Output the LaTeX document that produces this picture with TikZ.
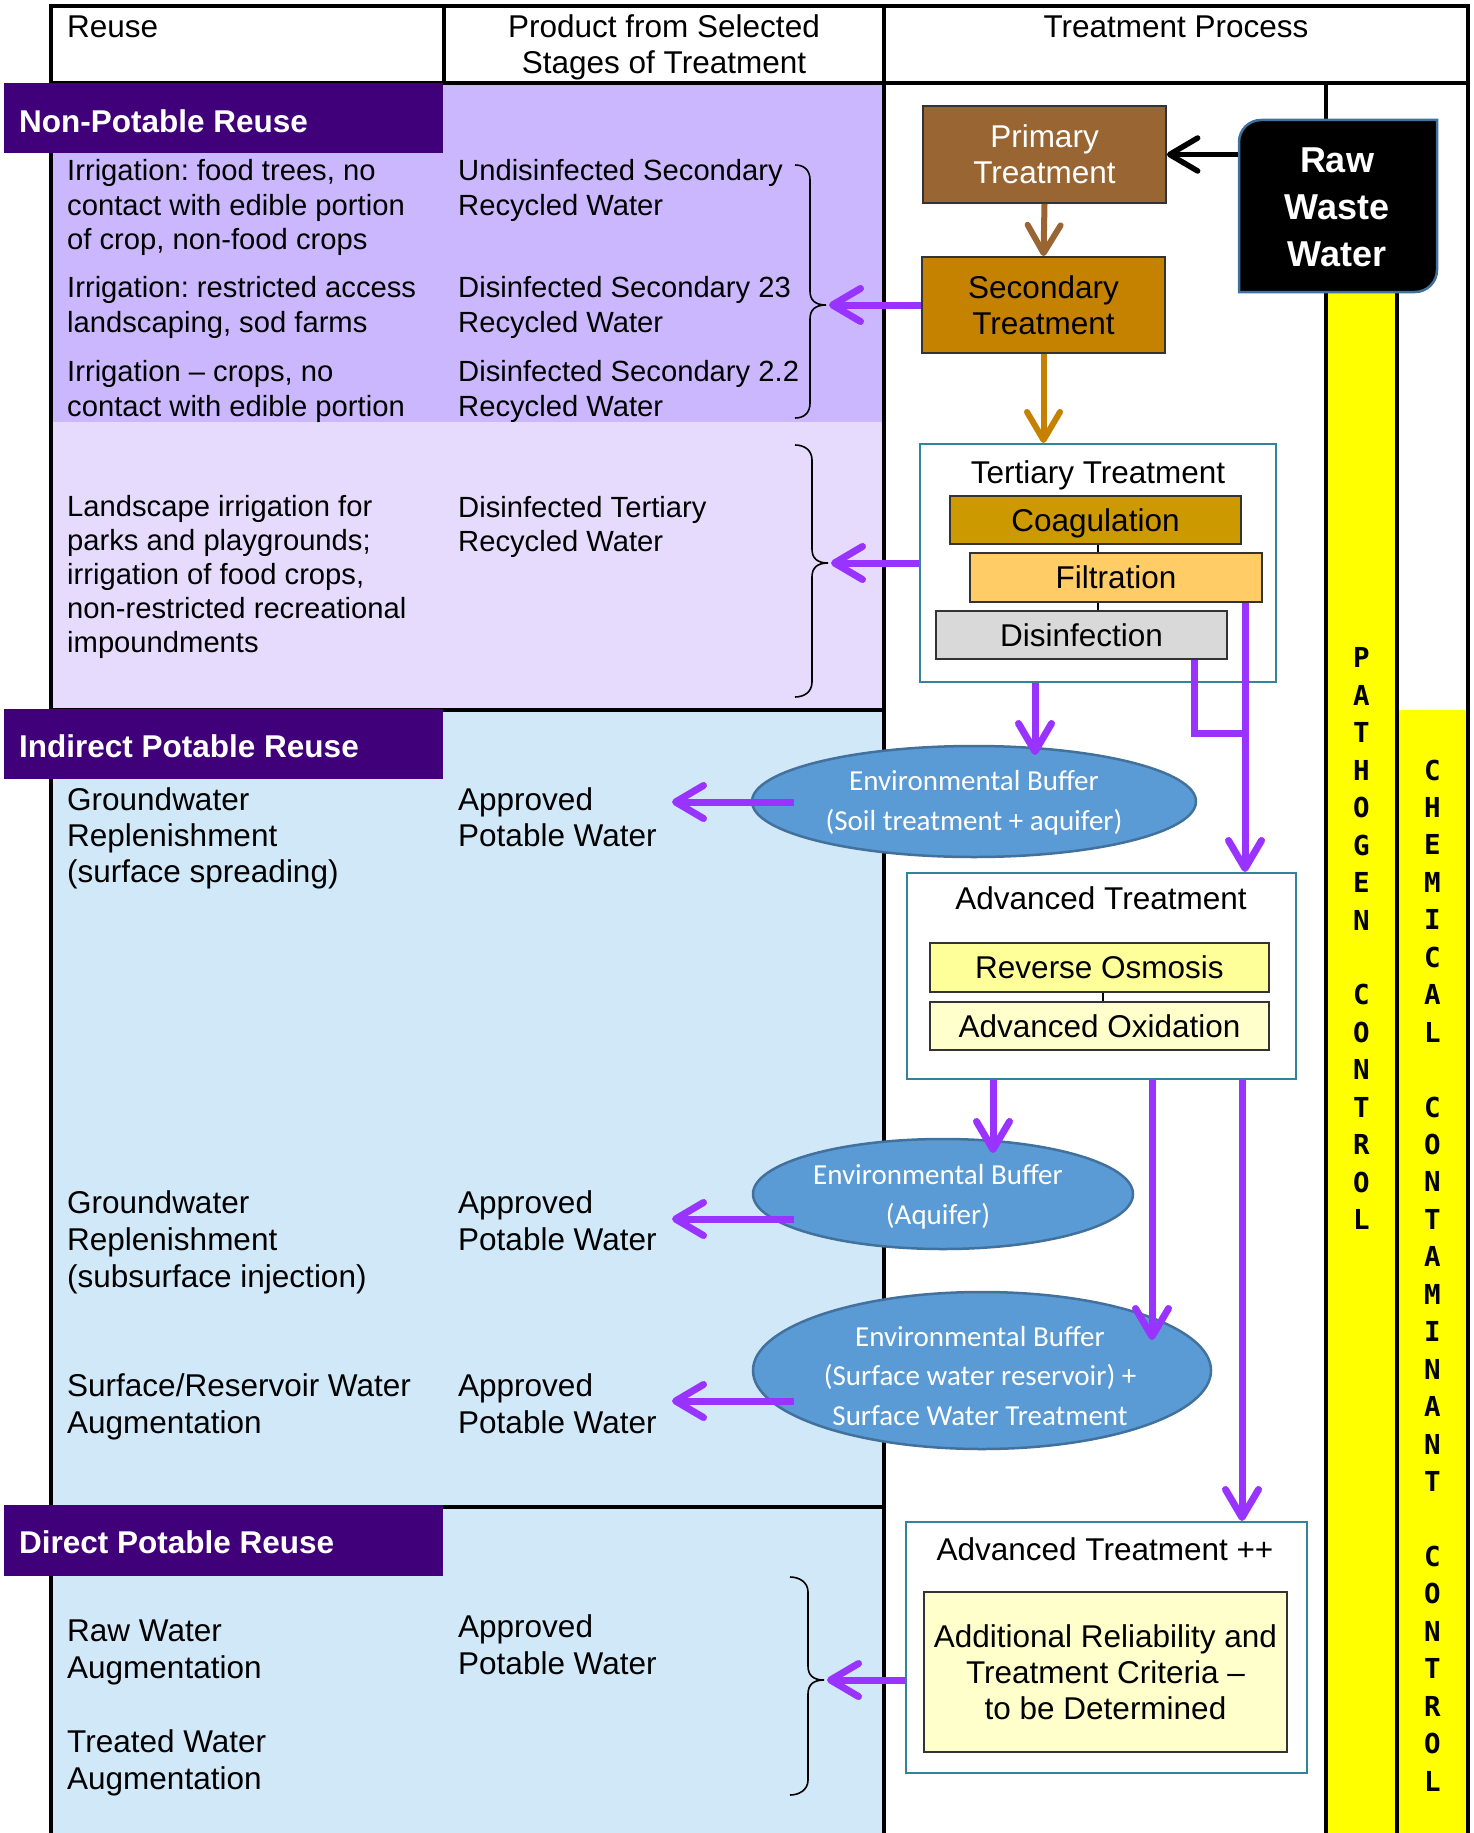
\documentclass[tikz,border=0pt]{standalone}
\usepackage{fontspec}
\setmainfont{Liberation Sans}
\newfontfamily\calib{Carlito}
\newfontfamily\monob{DejaVu Sans Mono}
\usetikzlibrary{arrows.meta,shapes.geometric,calc}
\frenchspacing
\definecolor{banner}{HTML}{40007A}
\definecolor{npurple}{HTML}{CBB7FE}
\definecolor{lav}{HTML}{E6DBFD}
\definecolor{lblue}{HTML}{D1E8F8}
\definecolor{vio}{HTML}{9933FF}
\definecolor{brownbox}{HTML}{996633}
\definecolor{secbox}{HTML}{C48200}
\definecolor{coagc}{HTML}{CC9900}
\definecolor{filtc}{HTML}{FFCC66}
\definecolor{disfc}{HTML}{D9D9D9}
\definecolor{roc}{HTML}{FFFF99}
\definecolor{aoc}{HTML}{FFFFCC}
\definecolor{boxteal}{HTML}{31849B}
\definecolor{buff}{HTML}{5B9BD5}
\definecolor{buffb}{HTML}{41719C}
\definecolor{yel}{HTML}{FFFF00}
\newcommand\mybrace[6]{%
  \draw[brace] (#1,#4) .. controls ({#1+9},#4) and (#2,{#4+5}) .. (#2,{#4+15})
    -- (#2,{#5-14}) .. controls (#2,{#5-5}) and ({#2+5},#5) .. (#3,#5)
    .. controls ({#2+5},#5) and (#2,{#5+5}) .. (#2,{#5+14})
    -- (#2,{#6-15}) .. controls (#2,{#6-5}) and ({#1+9},#6) .. (#1,#6);}
\begin{document}
\begin{tikzpicture}[x=1pt,y=-1pt,
  tline/.style={line width=4.5pt},
  bantext/.style={font=\bfseries\fontsize{31.5}{36}\selectfont, text=white, anchor=west, inner sep=0},
  np/.style={font=\fontsize{29.2}{34.5}\selectfont, anchor=north west, align=left, inner sep=0},
  pt/.style={font=\fontsize{31.5}{37}\selectfont, anchor=north west, align=left, inner sep=0},
  hd/.style={font=\fontsize{31.5}{36}\selectfont, anchor=north, align=center, inner sep=0},
  stage/.style={draw=black!80, line width=1.8pt, inner sep=0, align=center, font=\fontsize{31.5}{36}\selectfont},
  one/.style={text height=22.6pt, text depth=0pt},
  group/.style={draw=boxteal, line width=2pt, fill=white, inner sep=0},
  title/.style={font=\fontsize{31.5}{36}\selectfont, inner sep=0, anchor=base},
  buffer/.style={ellipse, draw=buffb, line width=2.5pt, fill=buff, inner sep=0},
  buftext/.style={font=\calib\fontsize{29}{39.5}\selectfont, text=white, align=center, inner sep=0},
  arr/.style={-{Straight Barb[length=28pt,width=33pt,round]}},
  parr/.style={draw=vio, line width=7pt, arr},
  pline/.style={draw=vio, line width=7pt},
  brace/.style={draw=black, line width=1.6pt},
  link/.style={draw=black, line width=1.6pt},
  vert/.style={font=\monob\bfseries\fontsize{27.5}{37.45}\selectfont, align=center, anchor=north, inner sep=0},
]
\useasboundingbox (0,0) rectangle (1474,1833);
\fill[white] (0,0) rectangle (1474,1833);
% backgrounds
\fill[npurple] (51,83) rectangle (884,422);
\fill[lav] (51,422) rectangle (884,710);
\fill[lblue] (51,710) rectangle (884,1833);
\fill[yel] (1326,250) rectangle (1397,1833);
\fill[yel] (1397,710) rectangle (1468,1833);
% table lines
\draw[tline, line cap=rect] (51,6) -- (1468,6);
\draw[tline] (51,83) -- (1468,83);
\draw[tline, line cap=rect] (51,6) -- (51,1833);
\draw[tline] (444,6) -- (444,83);
\draw[tline] (884,6) -- (884,1833);
\draw[tline, line cap=rect] (1468,6) -- (1468,1833);
\draw[tline] (1326,83) -- (1326,1833);
\draw[tline] (1397,250) -- (1397,1833);
\draw[tline] (51,710) -- (884,710);
\draw[tline] (51,1507) -- (884,1507);
% header
\node[hd, anchor=north west, align=left] (h1) at (67,12) {\strut Reuse};
\node[hd] (h2) at (664,12) {\strut Product from Selected\\Stages of Treatment};
\node[hd] (h3) at (1176,12) {\strut Treatment Process};
% banners
\fill[banner] (4,83) rectangle (443,153);
\fill[banner] (4,709) rectangle (443,779);
\fill[banner] (4,1505) rectangle (443,1576);
\node[bantext] (b1) at (19,121) {Non-Potable Reuse};
\node[bantext] (b2) at (19,746) {Indirect Potable Reuse};
\node[bantext] (b3) at (19,1542) {Direct Potable Reuse};
% non-potable texts
\node[np] (r1) at (67,156.5) {\strut Irrigation: food trees, no\\contact with edible portion\\of crop, non-food crops};
\node[np] (r2) at (67,273.5) {\strut Irrigation: restricted access\\landscaping, sod farms};
\node[np] (r3) at (67,357.5) {\strut Irrigation – crops, no\\contact with edible portion};
\node[np] (p1) at (458,156.5) {\strut Undisinfected Secondary\\Recycled Water};
\node[np] (p2) at (458,273.5) {\strut Disinfected Secondary 23\\Recycled Water};
\node[np] (p3) at (458,357.5) {\strut Disinfected Secondary 2.2\\Recycled Water};
\node[np, font=\fontsize{29.2}{33.8}\selectfont] (r4) at (67,493) {\strut Landscape irrigation for\\parks and playgrounds;\\irrigation of food crops,\\non-restricted recreational\\impoundments};
\node[np] (p4) at (458,493) {\strut Disinfected Tertiary\\Recycled Water};
% indirect texts
\node[pt, font=\fontsize{31.5}{36}\selectfont] (r5) at (67,785) {\strut Groundwater\\Replenishment\\(surface spreading)};
\node[pt, font=\fontsize{31.5}{36}\selectfont] (p5) at (458,785) {\strut Approved\\Potable Water};
\node[pt] (r6) at (67,1187.5) {\strut Groundwater\\Replenishment\\(subsurface injection)};
\node[pt] (p6) at (458,1187.5) {\strut Approved\\Potable Water};
\node[pt] (r7) at (67,1370.5) {\strut Surface/Reservoir Water\\Augmentation};
\node[pt] (p7) at (458,1370.5) {\strut Approved\\Potable Water};
% direct texts
\node[pt] (r8) at (67,1615.5) {\strut Raw Water\\Augmentation};
\node[pt] (p8) at (458,1611.5) {\strut Approved\\Potable Water};
\node[pt] (r9) at (67,1726.5) {\strut Treated Water\\Augmentation};
% braces
\mybrace{795}{810}{826}{165}{305}{418}
\mybrace{795}{812}{828}{445}{563}{697}
\mybrace{790}{808}{824}{1577}{1680}{1795}
\coordinate (bt1) at (829,305);
\coordinate (bt2) at (831,563);
\coordinate (bt3) at (827,1680);
% vertical labels
\node[vert] (pc) at (1361.5,641.5) {\strut P\\A\\T\\H\\O\\G\\E\\N\\\mbox{}\\C\\O\\N\\T\\R\\O\\L};
\node[vert] (cc) at (1432.5,753.6) {\strut C\\H\\E\\M\\I\\C\\A\\L\\\mbox{}\\C\\O\\N\\T\\A\\M\\I\\N\\A\\N\\T\\\mbox{}\\C\\O\\N\\T\\R\\O\\L};
% raw waste water
\draw[draw=buffb, line width=2.5pt, fill=black] (1239,292) -- (1239,142) .. controls (1239,129.9) and (1248.9,120) .. (1261,120) -- (1437,120) -- (1437,270) .. controls (1437,282.1) and (1427.1,292) .. (1415,292) -- cycle;
\node[font=\bfseries\fontsize{36}{47}\selectfont, text=white, align=center, minimum width=198, minimum height=172, inner sep=0] (raw) at (1337,207) {Raw\\Waste\\Water};
% primary / secondary
\node[stage, fill=brownbox, text=white, minimum width=243, minimum height=97] (prim) at (1044.5,154.5) {Primary\\Treatment};
\node[stage, fill=secbox, minimum width=243, minimum height=96] (sec) at (1043.5,305) {Secondary\\Treatment};
% tertiary
\node[group, minimum width=356, minimum height=238] (tert) at (1098,563) {};
\node[title] (tertt) at (1098,483) {Tertiary Treatment};
\node[stage, one, fill=coagc, minimum width=291, minimum height=48] (coag) at (1095.5,520) {Coagulation};
\node[stage, one, fill=filtc, minimum width=292, minimum height=49] (filt) at (1116,577.5) {Filtration};
\node[stage, one, fill=disfc, minimum width=291, minimum height=48] (disf) at (1081.5,635) {Disinfection};
\coordinate (cx) at (1098,0);
\draw[link] (coag.south -| cx) -- (filt.north -| cx);
\draw[link] (filt.south -| cx) -- (disf.north -| cx);
% advanced
\node[group, minimum width=389, minimum height=206] (at) at (1101.5,976) {};
\node[title] (att) at (1101,909) {Advanced Treatment};
\node[stage, one, fill=roc, minimum width=339, minimum height=49] (ro) at (1099.5,967.5) {Reverse Osmosis};
\node[stage, one, fill=aoc, minimum width=339, minimum height=48] (ao) at (1099.5,1026) {Advanced Oxidation};
\coordinate (rx) at (1103,0);
\draw[link] (ro.south -| rx) -- (ao.north -| rx);
% advanced ++
\node[group, minimum width=401, minimum height=251] (atpp) at (1106.5,1647.5) {};
\node[title] (atppt) at (1105,1560) {Advanced Treatment ++};
\node[stage, fill=aoc, minimum width=363, minimum height=160] (crit) at (1105.5,1672) {Additional Reliability and\\Treatment Criteria –\\to be Determined};
% buffers
\node[buffer, minimum width=444, minimum height=111] (ell1) at (974,801.5) {};
\node[buftext] (e1t) at (974,803) {Environmental Buffer\\(Soil treatment + aquifer)};
\node[buffer, minimum width=380, minimum height=110] (ell2) at (943,1194) {};
\node[buftext] (e2t) at (938,1197) {Environmental Buffer\\(Aquifer)};
\node[buffer, minimum width=458, minimum height=157] (ell3) at (982,1370.5) {};
\node[buftext] (e3t) at (980,1376) {Environmental Buffer\\(Surface water reservoir) +\\Surface Water Treatment};
% brown / black arrows
\draw[draw=brownbox, line width=6pt, arr] (prim.south) -- (sec.north);
\draw[draw=secbox, line width=6pt, arr] (sec.south) -- (sec.south |- tert.north);
\draw[draw=black, line width=5.5pt, arr] (raw.west |- prim.east) -- (prim.east);
% purple arrows to braces
\draw[parr] (sec.west) -- (bt1);
\draw[parr] (tert.west) -- (bt2);
\draw[parr] (atpp.west |- bt3) -- (bt3);
% tertiary outputs
\coordinate (v1) at (1035,755);
\coordinate (dj) at (1194,733);
\coordinate (fx) at (1245,0);
\draw[parr] (tert.south -| v1) -- (v1);
\draw[pline] (disf.south -| dj) |- (fx |- dj);
\draw[parr] (filt.south -| fx) -- (at.north -| fx);
% advanced outputs
\coordinate (v2) at (993,1153);
\coordinate (v3) at (1152,1340);
\coordinate (v4) at (1242,0);
\draw[parr] (at.south -| v2) -- (v2);
\draw[parr] (at.south -| v3) -- (v3);
\draw[parr] (at.south -| v4) -- (atpp.north -| v4);
% buffer outputs
\coordinate (o1) at (672,802);
\coordinate (o2) at (672,1219);
\coordinate (o3) at (672,1401);
\draw[parr] (ell1.west |- o1) ++(43,0) -- (o1);
\draw[parr] (ell2.west |- o2) ++(42,0) -- (o2);
\draw[parr] (ell3.west |- o3) ++(42,0) -- (o3);
\end{tikzpicture}
\end{document}
